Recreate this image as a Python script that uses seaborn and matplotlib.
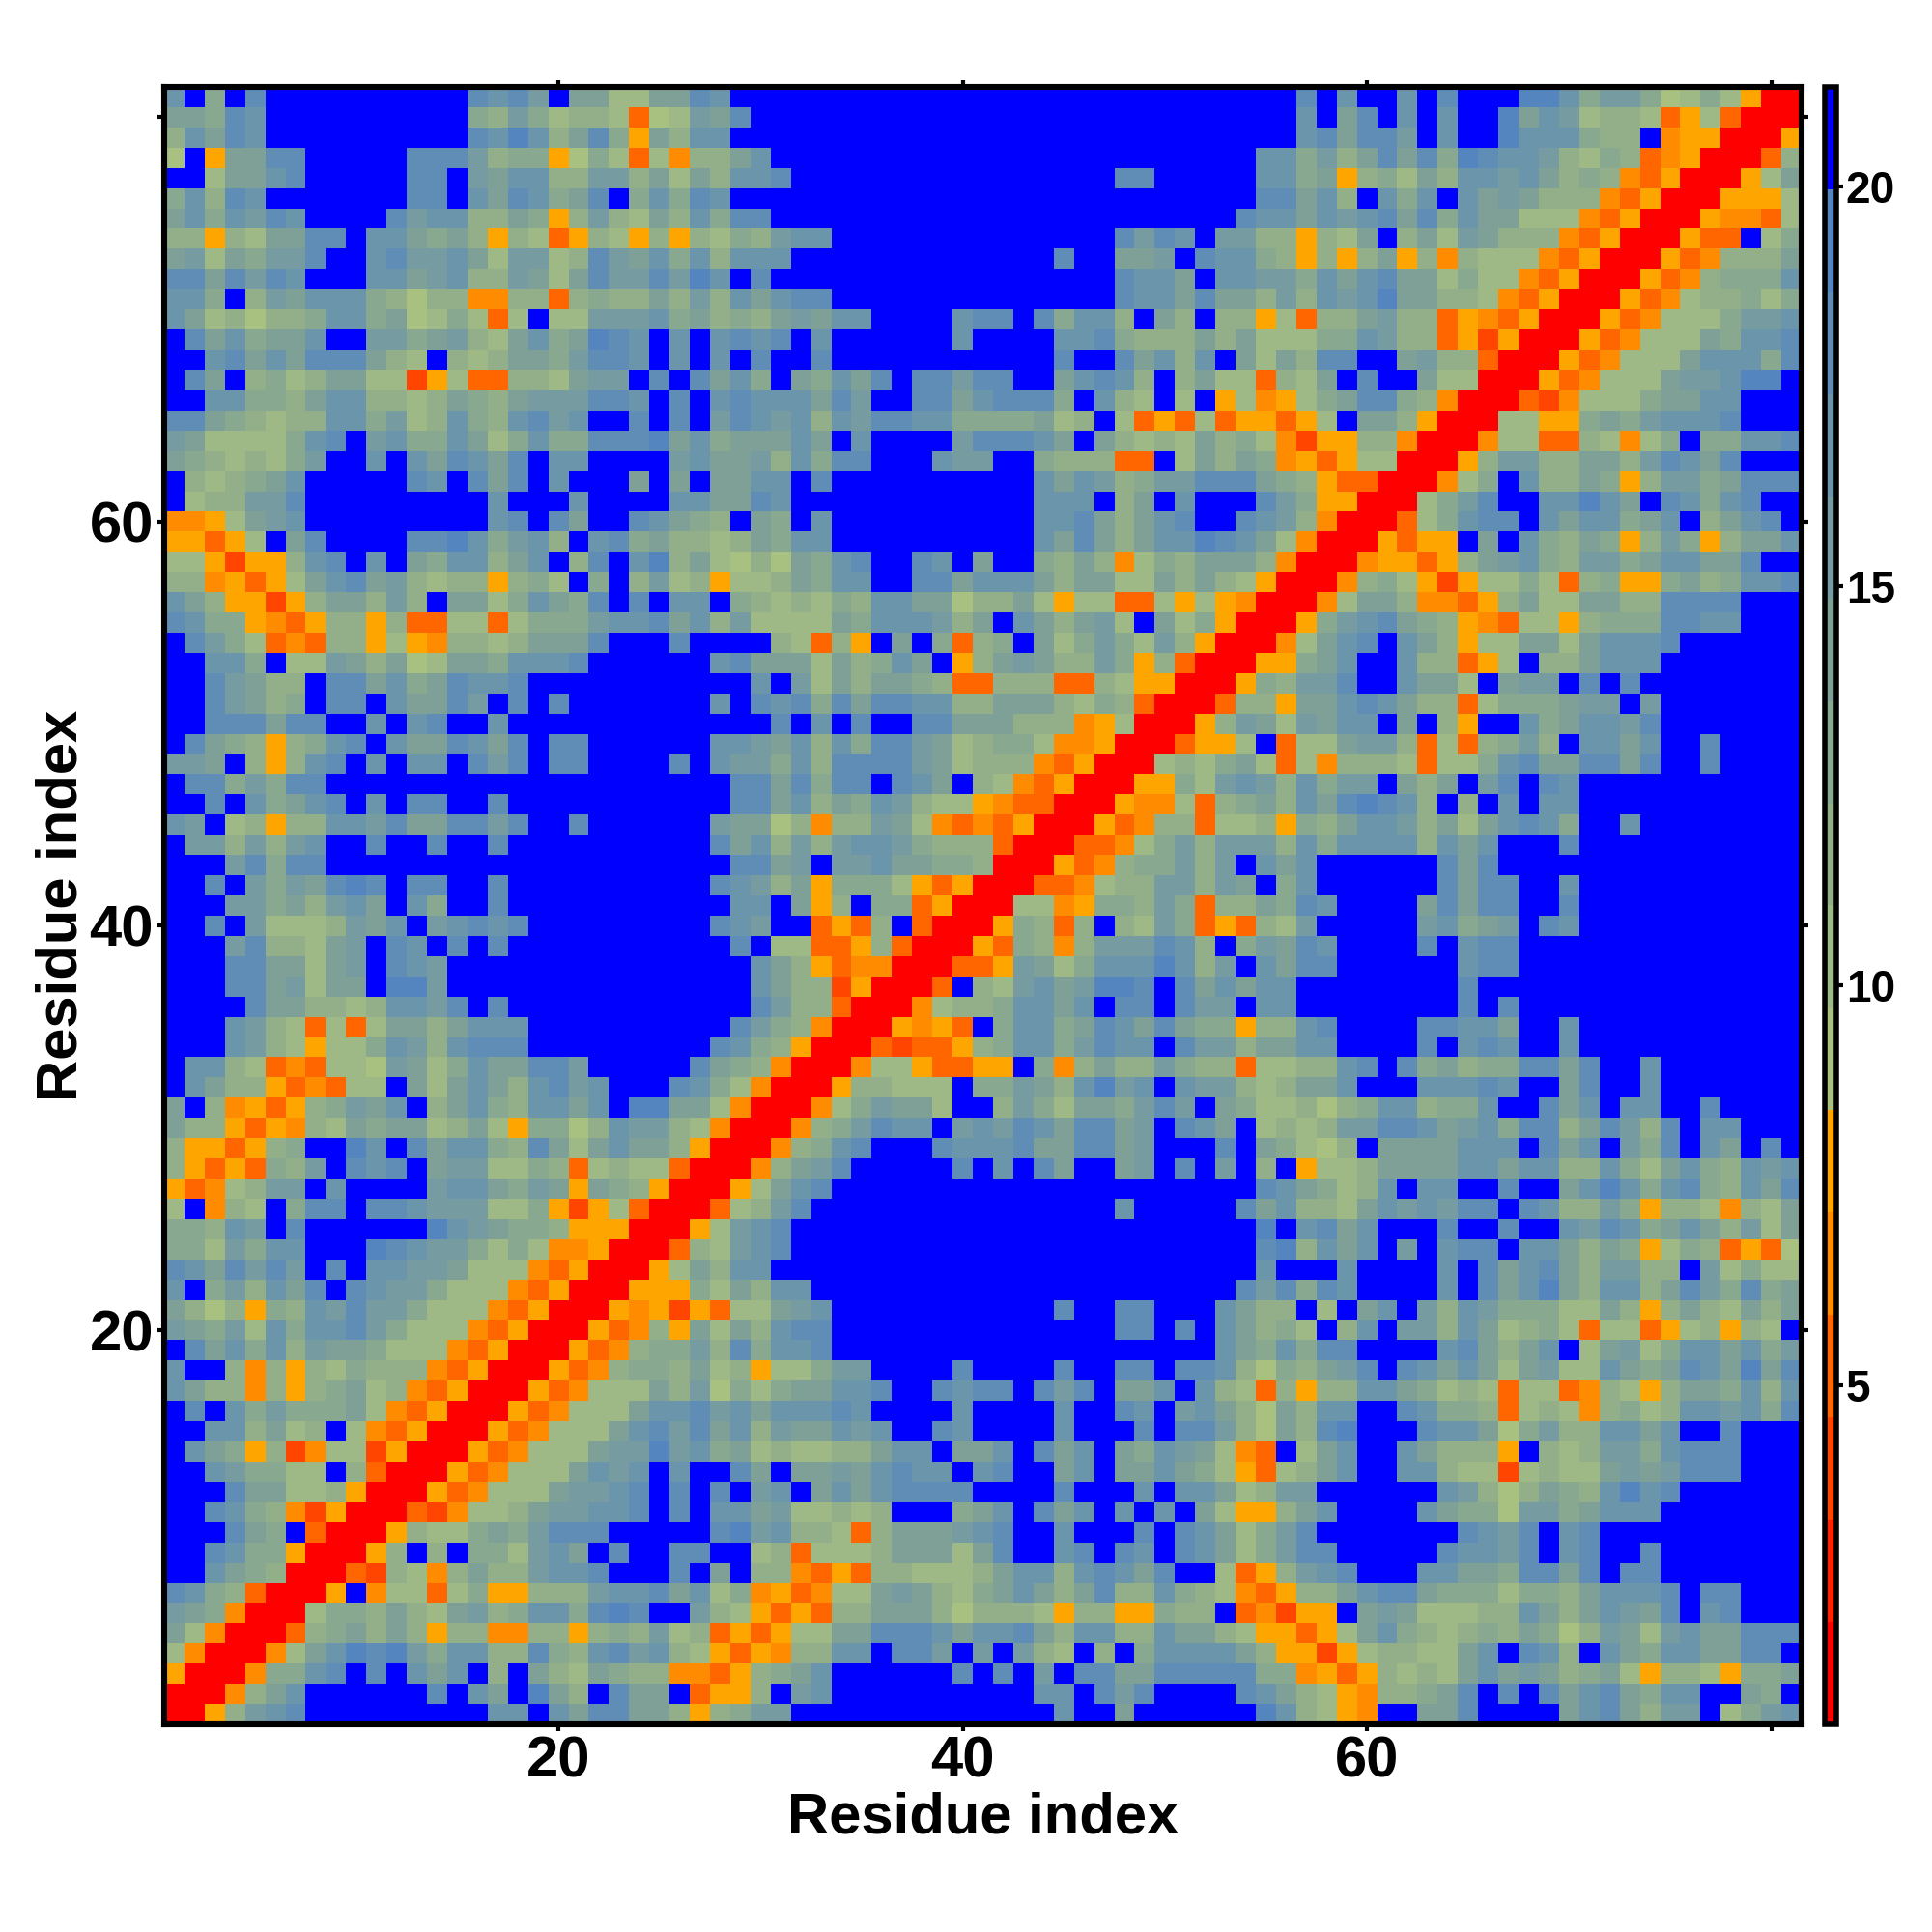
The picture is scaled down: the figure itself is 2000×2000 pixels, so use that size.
import numpy as np
import pandas as pd
import matplotlib
matplotlib.use("Agg")
import matplotlib.pyplot as plt
from matplotlib.colors import ListedColormap
import seaborn as sns

# one hex digit per cell = colour level, top row of the picture first
top_left = [
    "cf9fdffffffffffdcdbfaa77aad", "aa9dcffffffffff98b97887367b", "8cadcffffffffffdcec8ad95a8c",
    "6f5aaddfffffdddb89956973748", "ff7aacdfffffddfbacc88bb8a7a", "9c8dcfffffffddfcadc9adf9c9d",
    "ac9cbdcffffdbcc88a958b87a8c", "88587aaddfcca9a858735875858", "ab7a9bbdffcdbbca7bb78dbac9c",
    "ddadbdcfffccabc88ba7adbbdbe", "cc9f8baccc98688448838988a8b", "ca786889cc9a679737f77bbbc9a",
    "fdac9aacffbb9ab87ac9aedcfcf", "ffcdacaddda87f878aa9bddcfcf", "fdaf8978aa7725733887abbfdfd",
    "ffcc998acc8878a98abbbddcfdf", "dda98788cc9b78c98cdbcffdfdf", "ba77779cdfbc99ca79c99dddeac",
    "a987879bffcfcadcadfccffffbc", "f8789acfffffdcfdadfcfffafaf", "f788bbdfffffffffcfffcffffcc",
    "4457abcfffffffffcdfdaffdca9", "55357fadffffddec9bc8fcd9a88", "7752558cdfcfa9cc8acf8dfce8a",
    "8845357acdab87885897f9f8b78", "ca855258aa8b8faa79ca9dfdfcc", "dc9954358858337737999bccdac",
]
top_mid = [
    "c" + "f" * 26, "ad" + "f" * 25, "c" + "f" * 26,
    "8ac" + "f" * 24, "8ccd" + "f" * 16 + "dd" + "f" * 5, "c" + "f" * 26,
    "9dd" + "f" * 23 + "d", "798bcc" + "f" * 14 + "dbdcfbb", "8ccc" + "f" * 13 + "dffaabfdcc",
    "cfd" + "f" * 17 + "dccafcc", "8cacdd" + "f" * 14 + "dccadaa", "898abaccffffcddfd9cc8fa8f88",
    "cdcdfcffffffcffffccd9888a8a", "cfdffd" + "f" * 11 + "dffdac8cfa", "ac9fa9cadfddbddffacdc8f8a77",
    "cdcccadbffddacddd9fc87f7f57", "bdcbc8cbddcc9999a78f7353735", "9aaacafcffffbdddcafa8787a89",
    "aab8c9ddfffcbbff988833f7a8a", "aaccfd" + "f" * 10 + "cacb89bbddd", "aadc" + "f" * 12 + "cccf8afcfff",
    "8fa9fc" + "f" * 10 + "ccda8acdffd", "78a9cc" + "f" * 10 + "cada8accedc", "7686a9cdffdcfaff98a84798aaa",
    "5778a9ccffddaccca8aa77a8a87", "f9878798ccaa688a75773375754", "8b7777a9cccb8afca8ab7fa7950",
]
top_right = [
    "ffdfcffcfdfffeec9bb96797500", "ffcfadfcfcffeacb78873573000", "ffcdaddbfcffeccc988f4550005",
    "cc9b8adad9edccb879834500038", "cc9a5897a8ccbca89843500057a", "ddac8fc9cfcaba8884350005557",
    "ccacbcdad9caa77743500054437", "88587af8a7ba888435000533f79", "985858a5848777435000534888a",
    "bb9cacdaa79774350005348999c", "8b8cbceaa887435000534788979", "57388ab88354350005347779bbc",
    "77799cb883525000534777a9ccd", "7a8ddffab883000534777accc9d", "387afdffa77000534777abbceef",
    "4579add9840003247779aaccfff", "5357faa8500077559a9bcccdfff", "742558840004773387479f99ccd",
    "945357700058bb88aa8bdcadfff", "a98533000479fc88a958bb9addd", "db95500079bdffccecafdc9cdff",
    "cb84000379cddfcacc9acf8acdf", "a740005355fafc98a958b958aac", "84000455358abc98bb9accaadff",
    "500048975257797389559a89ccd", "00047aa844358a77aa88ddddfff", "0059bcda985437758999ddccfff",
]
mid_left = [
    "fdb973438857548878aaadfffdf", "ffcc9f77ba8a67aa9cccdffffff", "ffdba88fddac9adccdfffffffff",
    "ffdba89fddfcaadbfdfdfffffff", "ffdddaddffcfcdffcffffffffff", "fda98589cdfcaadcadfddffffff",
    "bbaf858cdfcfccfdbdfddffffdf", "fdd9b9ddff" + "f" * 17, "ffdfc9acdfcfddffdffffffffff",
    "cbf78588ccbdaaddbdffdffffff", "fbb8b8bcffdffdffdffffffffff", "fffbd9ddff" + "f" * 17,
    "ffdfb9badedfddffdffffffffff", "fffbb9a8bcafc9ffdffffffffff", "ffdfb7778bacfbcdcdfffffffff",
    "fffbd887abfdcfdfdffffffffff", "fffddaa7abfdcbf" + "f" * 12, "fffddab7aafeebf" + "f" * 12,
    "ffffdaa8878ccbdfdffffffffff", "fffcb873737aa8acccfffffffff", "fffcb875779cb8cdddfffffffff",
    "fcc87343776ba79caaddbfffffd", "fca88534377fa7aca8cdbcfffdc", "af8453589bacf8ac98ccacfeeaa",
    "a88535487a9aa78a759968cbb87", "8553589ffecfdacc98da7acaa85", "8535398bfdcdfabb77983787730",
]
mid_mid = [
    "fff87385faf9389fa79b97b8500", "cdaaa7a89caf58aba88b9583000", "ffcfb7a8aa98338883387550005",
    "cfdcd9daddcc88aaa8798300038", "fffdfcfdffddaaa88845700058b", "ccbac8c9ddba789974450003557",
    "cbb9c8ddddba78884350007879a", "fddad9ddfdcaf874350005597bc", "fddac8a9cb87754330005447389",
    "baa68488ba74343500053488377", "dac8b8bccb9888300033479b8bb", "fddabfbbcaa998000534899b8bf",
    "dcb8a59997535000334788bb8ba", "fccfa58f99350007745998b9388", "dcbff3538f300059838f87b9353",
    "fdf7733583000539848bbbdc8f9", "ffca85344000335ba79cccec8bf", "ffca88250003f87bcabeedfdaca",
    "ffdb88300047889ccacfddfdbbf", "fdb9840005453f9cc9adcada995", "dc9850003233589cc9bdccfdbb8",
    "a98400047753355f948a88b9883", "974000588777f99ba8cebcfcbb8", "74000479baa7ff8b97aa9bdbfa9",
    "4000489bdccfbcbdcaddabfdcaf", "000489cdfffdcccdaaddabfffdf", "0048abdfffffdfcfdaffabfdfbf",
]
mid_right = [
    "047acdfca8577aa7acccdffffff", "559acffc88357f88acccfffffff", "98bbdffcaa7fabbfdfdffffffff",
    "85aacdca8837999abbfbfffffff", "a7baccfaf85ffc9accbdfffffff", "f377abb837389b8fccacffdffff",
    "737488873779cdaaddadffdffff", "b8c9bbfa8afbdfdcfffffffffff", "a8cadedc8f8fcfccfffffffffff",
    "8598accb8a7acdc9ffcffffffff", "b8c9cccc8cacfffdfffffffffff", "cacffffffdadfff" + "f" * 12,
    "f9cffffffdaddffcfffffffffff", "a9dcffffadaddffdfffffffffff", "87bfffffbc9abfdcfffffffffff",
    "badcffffdfcddff" + "f" * 12, "caddffffffcddff" + "f" * 12, "ccffffffffdffff" + "f" * 12,
    "ccffffffffdfdff" + "f" * 12, "88cdffffddccaffcfffffffffff", "aaccffffdfcdcffcfffffffffff",
    "7788cdfd9a899ddadffcfffffff", "78aacfffcccdcffadffcfffffff", "778689cc899cffdacfccffdffff",
    "7878bbddcabc9dd8adb8dfccfff", "a9768faaaacccfdacfb9dfcafdf", "8f5778aaaaccacc88c97ac98cbc",
]
low_left = [
    "53478bbfcffffbcca9ba5a98500", "7f487f9ddfddcbbb77952573000", "998cbfdffffffecba9985550005",
    "997b9ccfffedcbb979744500038", "dcadbdbfdfccbba77743500057a", "cf9b8cadfdcbb97774350005559",
    "a868598cbdbb977743500054525", "ba9b7c9ccdb977743500053485a", "fdac9c8baa9777435000534899b",
    "cff84858798884350005348998a", "ca8848589a78435000534777a8b", "fdfc9b999a7435000534777accd",
    "ffcc8a78f7435000534777acdbd", "fca958247725000534777abbebc", "ffcb9977f83000534777acbcfcf",
    "fffdaa7785000534777abbcdfdf", "ffdc98425000324778abbccdfdf", "fffda9f300058779a9bdddfffff",
    "ffdc99500058f8f997bcafdffdd", "ffca98000328748a88bccdfffdf", "dc9830005f47737955888bccdac",
    "ba940007998a87ab89cc9dedffb", "a74000389a8a858844885898b78", "7400047acedeb9cc88d98cdbc87",
    "5000499cdfdfcacf8fa87a98844", "00048acffffffdfcafea8fdaaf3", "0058bcdfffffffffccfcaddaa85",
]
low_mid = [
    "057acd" + "f" * 21, "378bd" + "f" * 15 + "c" + "f" * 5 + "d", "7bcd" + "f" * 23,
    "7bcd" + "f" * 23, "8cc" + "f" * 24, "7a8cc" + "f" * 21 + "d",
    "377abc" + "f" * 11 + "dffddfffca", "7a8cdd" + "f" * 14 + "ddfdfca", "8d9ccd" + "f" * 19 + "ca",
    "785779bbffffdffffdffddfddc8", "6979aaccdffdcddfdbdfaacfc87", "bcacccdcffffcffffcffdcfbca8",
    "ac8baacbcffdcffffcfffdfddb8", "9a787788accfaacfdacfa9cba74", "fdafaabacdccfcdffacfaaca975",
    "dfbcfacacddddffffdfffcfcca7", "ccab77878fff9acfdacfcfcfa75", "debc88738aaabcdffcfffdfdca7",
    "ff7837778aaa7adffcdfdcfdca7", "af884353887778acc8cdcadff73", "79453477aba879aca8ad88c9874",
    "87535388aaa86888758855988f3", "353577aadddcaccda8cc88caa87", "535488ccfddbfbfb87f8f9cccca",
    "3589acffffffdfdfbfddaaddddd", "558fbc" + "f" * 10 + "ccfdbdffffd", "89bb" + "f" * 13 + "cffa" + "f" * 6,
]
low_right = [
    "dca978cfccffdffacec9cd98cad", "ac887acbcbddfdc88b95887487a", "efcdacfffdffdffcbdc9aca8b7a",
    "de8cacfbfcddfcca8a957983536", "cfffcffffcfdacda8bb88fb7977", "bd9dcffffcfdacea8cc8adb9d9a",
    "88f7facfb8cb99977a858a87a8a", "897f8cfbb8ca78973773578587f", "9c9ddffffcda8acf7ab79ccac9b",
    "698abdfdcaca7ab77ca9adcaead", "38588cca9787377348758aa9c8c", "6a8ccffdc998378748978ccbc9d",
    "6a8defffdcca69b88ccacffdfff", "3f7acffca8885f878bb9cdddfff", "378acffcc87727877ababdddfff",
    "8bbffffffcb868a98cecdffffff", "58acffffca996bb9acccfffffff", "9bdfffffffdcbdfcdffffffffff",
    "9bddfffffdccbdfcdffdfffffff", "58bcdfffccaa9ddadfddfffffff", "3588acdda9997998acccdfddfff",
    "4255faba77788ca8acbadfcdfff", "55357ac987898a968ba7bcaaddd", "8552578877acfdc8fca9ccaaddf",
    "9945358787acaba89a75887599a", "ca8754889adfdfdacda9ccffa9f", "ec8754ffaadffffacda8bbf79bc",
]

n_levels = 16
val_min = 0.75
val_max = 21.25
level_colors = ["#FF0000", "#FF2200", "#FF4500", "#FF6600", "#FF8C00", "#FFA500",
                "#A8C080", "#9EB985", "#93AF8A", "#88A890", "#7FA097", "#769BA1",
                "#6B95AB", "#5F8DB6", "#5585BE", "#0000FF"]
residue_ticks = [20, 40, 60, 80]
residue_labels = ["20", "40", "60", ""]
bar_ticks = [5, 10, 15, 20]

rows = []
for block in [(top_left, top_mid, top_right), (mid_left, mid_mid, mid_right), (low_left, low_mid, low_right)]:
    for a, b, c in zip(*block):
        rows.append(a + b + c)

step = (val_max - val_min) / n_levels
matrix = np.array([[val_min + step * (int(ch, 16) + 0.5) for ch in row] for row in rows])
matrix = matrix[::-1]  # residue 1 at index 0
df = pd.DataFrame(matrix, index=range(1, 82), columns=range(1, 82))

sns.set_theme(style="white")
plt.rcParams["font.family"] = ["Liberation Sans", "DejaVu Sans"]
plt.rcParams["font.weight"] = "bold"

fig = plt.figure(figsize=(10, 10), dpi=200)
ax = fig.add_axes([170 / 2000, 1 - 1785 / 2000, 1695 / 2000, 1695 / 2000])
cax = fig.add_axes([1889 / 2000, 1 - 1785 / 2000, 12 / 2000, 1695 / 2000])

sns.heatmap(df, ax=ax, cbar_ax=cax, cmap=ListedColormap(level_colors), vmin=val_min, vmax=val_max,
            xticklabels=False, yticklabels=False, cbar_kws={"ticks": bar_ticks})
ax.set_ylim(0, 81)
ax.set_xlim(0, 81)

ax.set_xticks([t - 0.5 for t in residue_ticks])
ax.set_xticklabels(residue_labels, fontsize=21.5, fontweight="bold")
ax.set_yticks([t - 0.5 for t in residue_ticks])
ax.set_yticklabels(residue_labels, fontsize=21.5, fontweight="bold")
ax.tick_params(axis="both", which="major", length=2.5, width=1.5, color="black", pad=1.5,
               top=True, right=True, bottom=True, left=True, labelcolor="black")

for side in ax.spines.values():
    side.set_visible(True)
    side.set_linewidth(2.2)
    side.set_color("black")

ax.set_xlabel("Residue index", fontsize=21.5, fontweight="bold", color="black", va="center")
ax.xaxis.set_label_coords(0.5, -0.057)
ax.set_ylabel("Residue index", fontsize=21.5, fontweight="bold", color="black", va="center")
ax.yaxis.set_label_coords(-0.0625, 0.5)

cbar = ax.collections[0].colorbar
cbar.outline.set_visible(True)
cbar.outline.set_linewidth(2.0)
cbar.outline.set_edgecolor("black")
cbar.ax.tick_params(length=2.5, width=1.5, color="black", pad=1, labelsize=16.5, labelcolor="black")
for lab in cbar.ax.get_yticklabels():
    lab.set_fontweight("bold")

fig.savefig("out.png", dpi=200, facecolor="white")
